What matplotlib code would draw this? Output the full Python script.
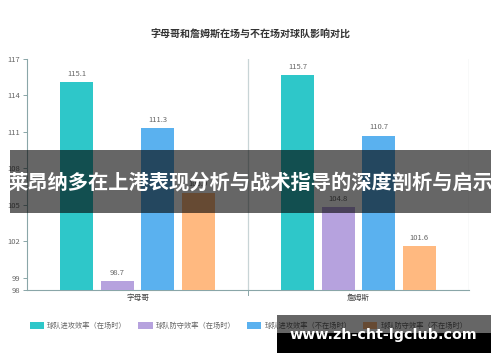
import matplotlib
matplotlib.use("Agg")
import matplotlib.pyplot as plt
import numpy as np
from matplotlib.patches import Rectangle

plt.rcParams['font.family'] = ['Noto Sans CJK SC', 'DejaVu Sans']

categories = ['字母哥', '詹姆斯']
series_names = ['球队进攻效率（在场时）', '球队防守效率（在场时）',
                '球队进攻效率（不在场时）', '球队防守效率（不在场时）']
off_on = [115.1, 115.7]
def_on = [98.7, 104.8]
off_off = [111.3, 110.7]
def_off = [106.0, 101.6]
series = [off_on, def_on, off_off, def_off]
colors = ['#2ec7c9', '#b6a2de', '#5ab1ef', '#ffb980']
yticks = [98, 99, 102, 105, 108, 111, 114, 117]

fig = plt.figure(figsize=(5, 3.62), dpi=100)
ax = fig.add_axes([0.054, 0.199, 0.884, 0.638])

x = np.arange(len(categories))
bw = 0.15
step = 0.183
for i, (vals, c, name) in enumerate(zip(series, colors, series_names)):
    pos = x + (i - 1.5) * step
    bars = ax.bar(pos, [v - 98 for v in vals], bottom=98, width=bw, color=c,
                  label=name, zorder=3)
    for p, v in zip(pos, vals):
        ax.text(p, v + 0.35, f'{v:.1f}', ha='center', va='bottom',
                fontsize=5.5, color='#666666', zorder=4)

ax.set_xlim(-0.5, 1.5)
ax.set_ylim(98, 117)
ax.set_yticks(yticks)
ax.set_yticklabels([str(t) for t in yticks], fontsize=5.5, color='#666666')
ax.set_xticks(x)
ax.set_xticklabels(categories, fontsize=5.5, color='#444444')
ax.tick_params(axis='x', length=0, pad=3)
ax.tick_params(axis='y', length=3, width=0.7, color='#8aa6a8', pad=2)
for b in [0.5, 1.5]:
    ax.axvline(b, color='#c8d4d6', lw=0.9, zorder=1)
ax.plot([0.5, 0.5], [98, 97.6], color='#8aa6a8', lw=0.7, clip_on=False)
for s in ['top', 'right']:
    ax.spines[s].set_visible(False)
ax.spines['left'].set_color('#8aa6a8')
ax.spines['bottom'].set_color('#8aa6a8')
ax.spines['left'].set_linewidth(0.8)
ax.spines['bottom'].set_linewidth(0.8)

fig.text(0.5, 1-35/362, '字母哥和詹姆斯在场与不在场对球队影响对比', ha='center', va='center',
         fontsize=7.2, fontweight='bold', color='#333333')

leg = fig.legend(loc='center', bbox_to_anchor=(0.497, 0.099), ncol=4, frameon=False,
                 fontsize=5.2, handlelength=2.0, handleheight=1.0, columnspacing=1.6,
                 handletextpad=0.4)
for t in leg.get_texts():
    t.set_color('#666666')

# overlay banner
fig.patches.append(Rectangle((10/500, 1-213/362), 481/500, 63/362, transform=fig.transFigure,
                             facecolor='black', alpha=0.6, zorder=10))
fig.text(0.5, 1-182/362, '莱昂纳多在上港表现分析与战术指导的深度剖析与启示', ha='center',
         va='center', fontsize=14.6, fontweight='bold', color='white', zorder=11)

# watermark
fig.patches.append(Rectangle((277/500, 1-333/362), 214/500, 18/362, transform=fig.transFigure,
                             facecolor='black', alpha=0.6, zorder=10))
fig.patches.append(Rectangle((277/500, 1-353/362), 214/500, 20/362, transform=fig.transFigure,
                             facecolor='black', zorder=10))
fig.text(383/500, 1-335/362, 'www.zh-cht-lgclub.com', ha='center', va='center',
         fontsize=10.3, fontweight='bold', color='white', family='DejaVu Sans', zorder=11)

fig.savefig('out.png', dpi=100)
